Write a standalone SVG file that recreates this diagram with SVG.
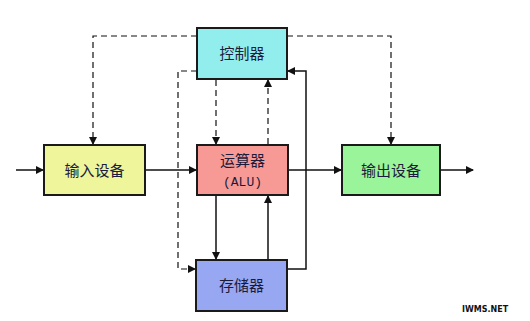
<svg xmlns="http://www.w3.org/2000/svg" width="530" height="321" viewBox="0 0 530 321">
<defs>
<style>
.box{stroke:#1a1a1a;stroke-width:2}
.t{font-family:"Noto Sans CJK SC","Liberation Sans",sans-serif;font-size:15px;fill:#1b1b3a;text-anchor:middle}
.s{fill:none;stroke:#111;stroke-width:1.5}
.d{fill:none;stroke:#111;stroke-width:1.2;stroke-dasharray:6,4}
</style>
<marker id="a" markerWidth="8" markerHeight="8" refX="7" refY="4" orient="auto" markerUnits="userSpaceOnUse">
<path d="M0,0 L8,4 L0,8 Z" fill="#111"/>
</marker>
</defs>
<rect width="530" height="321" fill="#fff"/>
<g id="connectors">
<path class="d" d="M197,36 H93 V144" marker-end="url(#a)"/>
<path class="d" d="M287,36 H391 V144" marker-end="url(#a)"/>
<path class="d" d="M197,71 H178 V269 H195" marker-end="url(#a)"/>
<path class="d" d="M216,80 V144" marker-end="url(#a)"/>
<path class="d" d="M268,144 V80" marker-end="url(#a)"/>
<path class="s" d="M287,269 H306 V71 H288" marker-end="url(#a)"/>
<path class="s" d="M216,196 V259" marker-end="url(#a)"/>
<path class="s" d="M268,259 V196" marker-end="url(#a)"/>
<path class="s" d="M16,170 H43" marker-end="url(#a)"/>
<path class="s" d="M145,170 H196" marker-end="url(#a)"/>
<path class="s" d="M288,170 H341" marker-end="url(#a)"/>
<path class="s" d="M440,170 H473" marker-end="url(#a)"/>
</g>
<g id="controller">
<rect class="box" x="197" y="28" width="90" height="51" fill="#92EEEC"/>
<text class="t" x="242" y="59">控制器</text>
</g>
<g id="input">
<rect class="box" x="44" y="145" width="101" height="50" fill="#EEF59A"/>
<text class="t" x="94.5" y="176">输入设备</text>
</g>
<g id="alu">
<rect class="box" x="197" y="145" width="91" height="50" fill="#F79A96"/>
<text class="t" x="242.5" y="166">运算器</text>
<text class="t" x="242.5" y="186" style="font-size:13px;font-family:'Liberation Mono',monospace">(ALU)</text>
</g>
<g id="output">
<rect class="box" x="342" y="145" width="98" height="50" fill="#9AF59A"/>
<text class="t" x="391" y="176">输出设备</text>
</g>
<g id="memory">
<rect class="box" x="196" y="260" width="91" height="51" fill="#97A7F2"/>
<text class="t" x="241.5" y="291">存储器</text>
</g>
<text x="485" y="312" style="font-family:'DejaVu Sans',sans-serif;font-size:8px;font-weight:bold;fill:#111;text-anchor:middle">IWMS.NET</text>
</svg>
